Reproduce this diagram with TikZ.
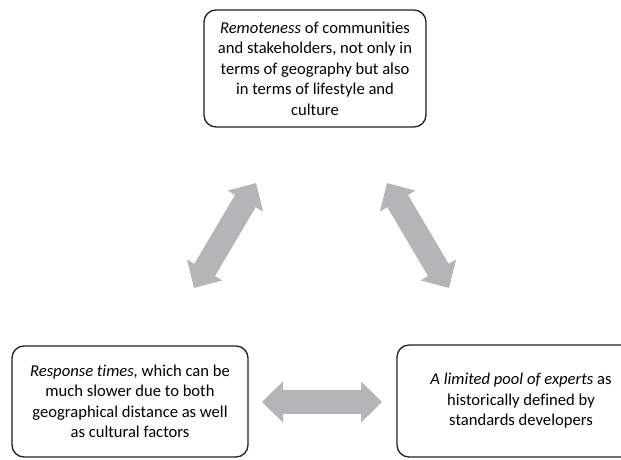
\documentclass[tikz,border=0pt]{standalone}
\usepackage{fontspec}
\setmainfont[Ligatures=NoCommon]{Carlito}
\usetikzlibrary{arrows.meta}
\definecolor{linkgray}{HTML}{B4B5B7}
\definecolor{boxline}{HTML}{231F20}
\tikzset{
  issue/.style={draw=boxline, line width=1.3pt, rounded corners=12pt,
    align=center, inner sep=0pt,
    font=\fontsize{16.6pt}{20.5pt}\selectfont},
  link/.style={linkgray, line width=24pt,
    {Triangle[width=40pt,length=21pt]}-{Triangle[width=40pt,length=21pt]}}
}
\begin{document}
\begin{tikzpicture}[x=1pt,y=-1pt]
  \useasboundingbox (0,0) rectangle (621,460);
  \clip (0,0) rectangle (621,460);

  % the three issues
  \node[issue, minimum width=222pt, minimum height=117pt] (remote) at (315,68.5)
    {\textit{Remoteness} of communities\\and stakeholders, not only in\\terms of geography but also\\in terms of lifestyle and\\culture};
  \node[issue, minimum width=236pt, minimum height=111pt] (response) at (130,401.5)
    {\textit{Response times,} which can be\\much slower due to both\\geographical distance as well\\as cultural factors};
  \node[issue, minimum width=248pt, minimum height=112pt] (experts) at (521,401)
    {\textit{A limited pool of experts} as\\historically defined by\\standards developers};

  % ends of the two-way links
  \coordinate (rl-a) at (194,288);
  \coordinate (rl-b) at (256,183);
  \coordinate (re-a) at (387,183);
  \coordinate (re-b) at (449,288);
  \coordinate (ex-a) at (262,402);
  \coordinate (ex-b) at (382,402);

  \draw[link] (rl-a) -- (rl-b);
  \draw[link] (re-a) -- (re-b);
  \draw[link] (ex-a) -- (ex-b);
\end{tikzpicture}
\end{document}
